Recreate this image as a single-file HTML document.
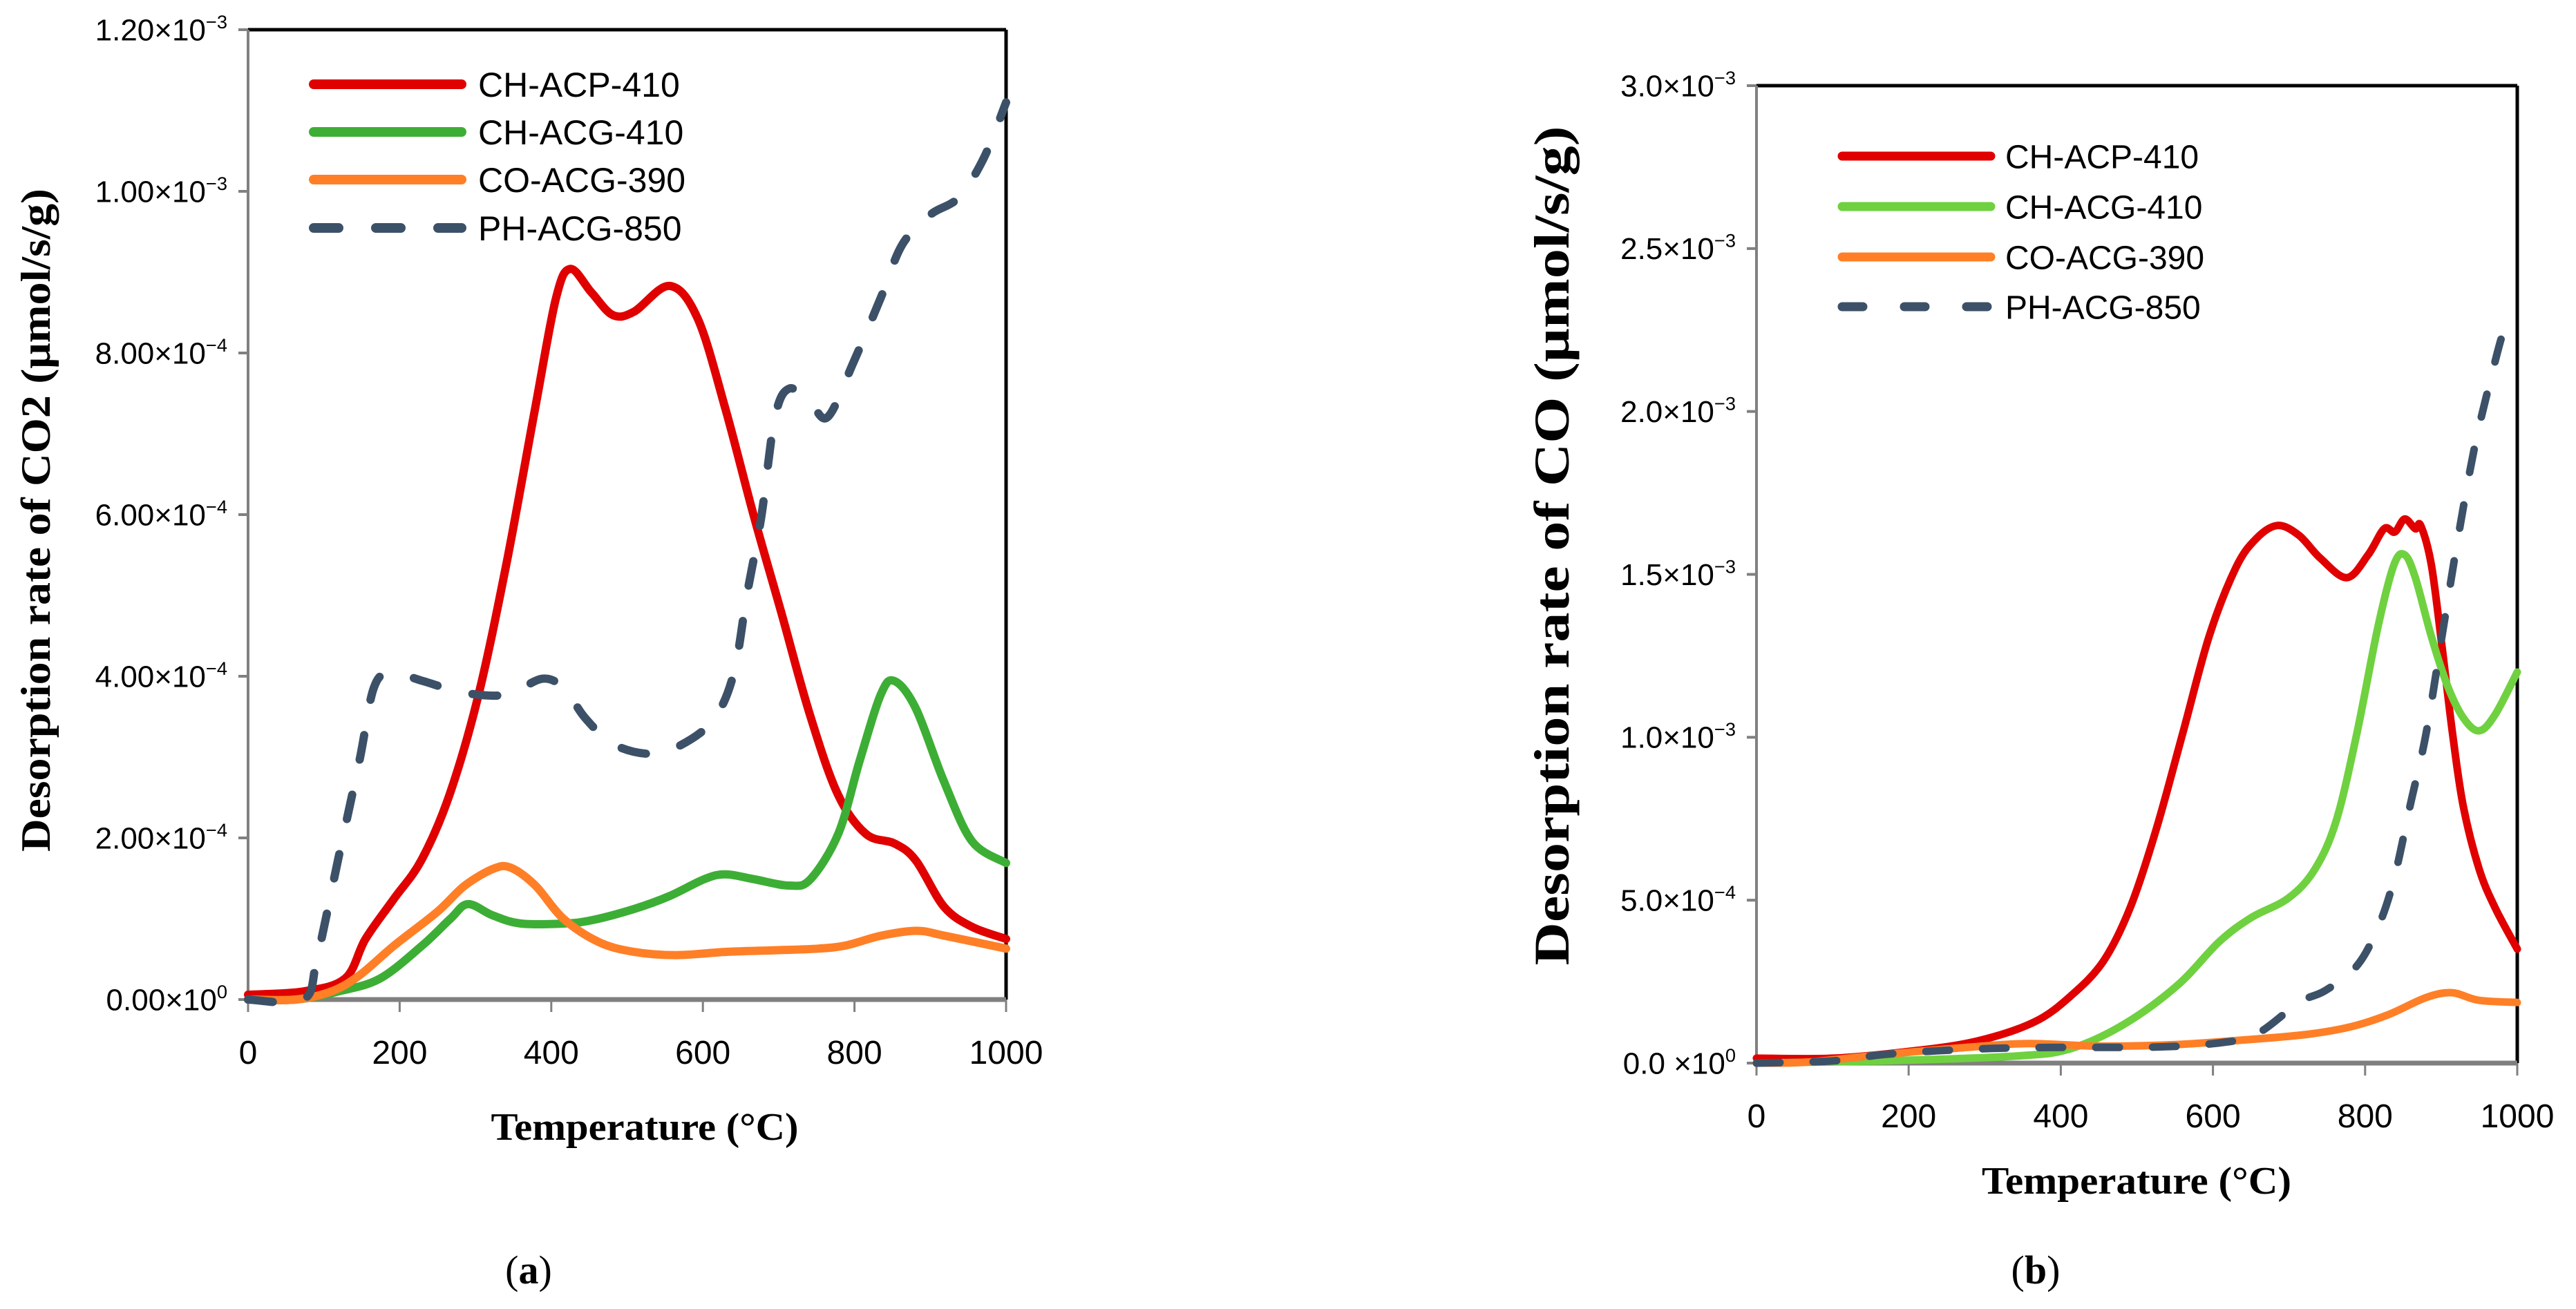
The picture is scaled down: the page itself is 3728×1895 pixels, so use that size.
<!DOCTYPE html>
<html><head><meta charset="utf-8"><style>
html,body{margin:0;padding:0;background:#fff;}
svg{display:block;}
.tick{font-family:"Liberation Sans",sans-serif;fill:#000;}
.title{font-family:"Liberation Serif",serif;font-weight:bold;fill:#000;}
</style></head><body>
<svg id="fig" width="3728" height="1895" viewBox="0 0 3728 1895" xmlns="http://www.w3.org/2000/svg">
<rect width="3728" height="1895" fill="#fff"/>
<g id="chartA"></g>
<g id="chartB"></g>
</svg>
<script>
// ---- Chart (a) data: temperature (°C) and rate in units of 1e-4 ----
const a_red_x = [0,73,128,155,192,229,266,304,341,378,406,425,453,481,509,556,593,630,667,704,741,778,815,853,881,918,955,1000];
const a_red_y = [0.06,0.1,0.26,0.75,1.24,1.73,2.54,3.77,5.4,7.28,8.67,9.04,8.75,8.47,8.51,8.83,8.43,7.3,5.99,4.77,3.53,2.54,2.05,1.93,1.72,1.15,0.9,0.75];
const a_green_x = [0,63,119,174,230,267,290,323,360,416,453,509,556,602,630,667,714,742,779,807,835,853,881,918,955,1000];
const a_green_y = [0,0,0.1,0.26,0.67,1.0,1.18,1.04,0.94,0.94,0.98,1.12,1.28,1.49,1.55,1.49,1.41,1.49,2.06,2.96,3.78,3.94,3.6,2.7,1.96,1.69];
const a_orange_x = [0,63,110,147,193,249,286,324,347,379,416,463,509,565,631,696,752,789,835,882,919,1000];
const a_orange_y = [0,0,0.1,0.3,0.67,1.08,1.41,1.62,1.63,1.41,1.0,0.71,0.59,0.55,0.59,0.61,0.63,0.67,0.79,0.85,0.79,0.63];
const a_dash_x = [0,73,91,119,147,166,189,231,277,324,352,389,417,445,482,528,565,612,640,658,677,695,714,742,765,798,835,863,900,937,970,1000];
const a_dash_y = [0,0,0.51,1.74,2.96,3.86,4.04,3.94,3.81,3.76,3.81,3.97,3.85,3.48,3.16,3.04,3.12,3.44,4.01,5.0,5.97,7.2,7.56,7.38,7.21,7.87,8.69,9.34,9.71,9.92,10.4,11.1];
const a_yticks = [0,2,4,6,8,10,12];
const a_ytick_mant = ["0.00","2.00","4.00","6.00","8.00","1.00","1.20"];
const a_ytick_exp = ["0","−4","−4","−4","−4","−3","−3"];
const xticks = [0,200,400,600,800,1000];

// ---- Chart (b) data: rate in units of 1e-4 ----
const b_red_x = [0,101,205,289,365,414,456,491,525,560,595,630,657,685,713,741,776,804,825,839,852,866,873,887,901,915,929,950,971,1000];
const b_red_y = [0.15,0.15,0.37,0.67,1.26,2.08,3.13,4.76,7.14,10.1,13.1,15.2,16.1,16.5,16.2,15.5,14.9,15.6,16.4,16.3,16.7,16.4,16.5,15.3,12.8,10.1,7.89,5.95,4.76,3.5];
const b_green_x = [0,170,344,414,483,553,608,650,699,734,762,789,817,838,852,866,887,908,929,950,971,1000];
const b_green_y = [0,0.07,0.22,0.45,1.19,2.38,3.72,4.46,5.06,5.95,7.44,10.1,13.4,15.3,15.6,14.9,13.1,11.6,10.6,10.2,10.7,12.0];
const b_orange_x = [0,66,170,275,358,449,553,657,727,782,831,880,914,949,1000];
const b_orange_y = [0,0.03,0.27,0.48,0.6,0.52,0.57,0.74,0.89,1.12,1.49,2.01,2.16,1.93,1.86];
const b_dash_x = [0,101,170,275,379,518,601,657,713,748,789,817,838,859,880,901,922,943,963,984,1000];
const b_dash_y = [0,0.07,0.27,0.42,0.48,0.49,0.6,0.89,1.86,2.23,2.98,4.17,5.65,7.89,10.1,13.1,16.1,18.8,20.8,22.6,23.0];
const b_yticks = [0,5,10,15,20,25,30];
const b_ytick_mant = ["0.0 ","5.0","1.0","1.5","2.0","2.5","3.0"];
const b_ytick_exp = ["0","−4","−3","−3","−3","−3","−3"];

const legendNames = ["CH-ACP-410","CH-ACG-410","CO-ACG-390","PH-ACG-850"];
const NS = "http://www.w3.org/2000/svg";

function mk(tag, attrs, parent){
  const e = document.createElementNS(NS, tag);
  for (const k in attrs) e.setAttribute(k, attrs[k]);
  parent.appendChild(e);
  return e;
}
function smoothPath(pts){
  let d = "M"+pts[0][0].toFixed(1)+","+pts[0][1].toFixed(1);
  for (let i=0;i<pts.length-1;i++){
    const p0=pts[Math.max(0,i-1)], p1=pts[i], p2=pts[i+1], p3=pts[Math.min(pts.length-1,i+2)];
    const c1x=p1[0]+(p2[0]-p0[0])/6, c1y=p1[1]+(p2[1]-p0[1])/6;
    const c2x=p2[0]-(p3[0]-p1[0])/6, c2y=p2[1]-(p3[1]-p1[1])/6;
    d+=" C"+c1x.toFixed(1)+","+c1y.toFixed(1)+" "+c2x.toFixed(1)+","+c2y.toFixed(1)+" "+p2[0].toFixed(1)+","+p2[1].toFixed(1);
  }
  return d;
}

function drawChart(g, cfg){
  const sx = v => cfg.x0 + (v/1000)*(cfg.x1-cfg.x0);
  const sy = v => cfg.yb - (v/cfg.ymax)*(cfg.yb-cfg.yt);
  // frame
  const top = mk("line",{x1:cfg.x0,y1:cfg.yt,x2:cfg.x1,y2:cfg.yt,stroke:"#000","stroke-width":5},g);
  
  
  const right = mk("line",{x1:cfg.x1,y1:cfg.yt,x2:cfg.x1,y2:cfg.yb,stroke:"#000","stroke-width":5},g);
  
  
  const yax = mk("line",{x1:cfg.x0,y1:cfg.yt,x2:cfg.x0,y2:cfg.yb,stroke:"#808080","stroke-width":4},g);
  
  
  // y ticks
  cfg.yticks.forEach((v,i)=>{
    const y = sy(v);
    const t = mk("line",{x1:cfg.x0-14,y1:y,x2:cfg.x0,y2:y,stroke:"#808080","stroke-width":4},g);
    
    
    const tx = mk("text",{x:cfg.x0-30,y:y+cfg.yfs*0.35,"text-anchor":"end","font-size":cfg.yfs,class:"tick"},g);
    
    
    const m = document.createElementNS(NS,"tspan"); m.textContent = cfg.mant[i]+"×10"; tx.appendChild(m);
    const s = document.createElementNS(NS,"tspan"); s.setAttribute("dy",-cfg.yfs*0.4); s.setAttribute("font-size",cfg.yfs*0.62); s.textContent = cfg.exp[i]; tx.appendChild(s);
  });
  // x axis
  const xax = mk("line",{x1:cfg.x0,y1:cfg.yb,x2:cfg.x1,y2:cfg.yb,stroke:"#7f7f7f","stroke-width":7},g);
  
  
  xticks.forEach(v=>{
    const x = sx(v);
    const t = mk("line",{x1:x,y1:cfg.yb,x2:x,y2:cfg.yb+18,stroke:"#808080","stroke-width":3},g);
    
    
    const tx = mk("text",{x:x,y:cfg.xly,"text-anchor":"middle","font-size":cfg.xfs,class:"tick"},g);
    
    
    tx.textContent = v;
  });
  // series
  cfg.series.forEach(s=>{
    const pts = s.x.map((xv,i)=>[sx(xv), sy(s.y[i])]);
    const p = mk("path",{d:smoothPath(pts),fill:"none",stroke:s.color,"stroke-width":cfg.lw,"stroke-linecap":"round","stroke-linejoin":"round"},g);
    if (s.dash) p.setAttribute("stroke-dasharray",s.dash);
    
    
  });
  // legend
  cfg.series.forEach((s,i)=>{
    const y = cfg.legY[i];
    const l = mk("line",{x1:cfg.legX0,y1:y,x2:cfg.legX1,y2:y,stroke:s.color,"stroke-width":cfg.lw+2,"stroke-linecap":"round"},g);
    if (s.dash) l.setAttribute("stroke-dasharray",s.legDash);
    
    
    const t = mk("text",{x:cfg.legTx,y:y+cfg.legfs*0.36,"font-size":cfg.legfs,class:"tick"},g);
    
    
    t.textContent = legendNames[i];
  });
  // titles
  const yt = mk("text",{x:0,y:0,"text-anchor":"middle","font-size":cfg.ytfs,class:"title",textLength:cfg.ytLen,lengthAdjust:"spacingAndGlyphs",transform:"translate("+cfg.ytX+","+cfg.ytY+") rotate(-90)"},g);
  
  
  yt.textContent = cfg.ytitle;
  const xt = mk("text",{x:cfg.xtX,y:cfg.xtY,"text-anchor":"middle","font-size":cfg.xtfs,class:"title",textLength:cfg.xtLen,lengthAdjust:"spacingAndGlyphs"},g);
  
  
  xt.textContent = "Temperature (°C)";
  const cap = mk("text",{x:cfg.capX,y:1858,"text-anchor":"middle","font-size":58,class:"title","font-weight":"normal"},g);
  
  
  const c1=document.createElementNS(NS,"tspan"); c1.setAttribute("font-weight","normal"); c1.textContent="("; cap.appendChild(c1);
  const c2=document.createElementNS(NS,"tspan"); c2.setAttribute("font-weight","bold"); c2.textContent=cfg.cap; cap.appendChild(c2);
  const c3=document.createElementNS(NS,"tspan"); c3.setAttribute("font-weight","normal"); c3.textContent=")"; cap.appendChild(c3);
}

drawChart(document.getElementById("chartA"),{
  x0:359,x1:1456,yt:43,yb:1447,ymax:12,yticks:a_yticks,mant:a_ytick_mant,exp:a_ytick_exp,yfs:44,xfs:48,xly:1540,lw:12,
  series:[
    {name:"ch-acp-410-line",x:a_red_x,y:a_red_y,color:"#e00000"},
    {name:"ch-acg-410-line",x:a_green_x,y:a_green_y,color:"#3dae35"},
    {name:"co-acg-390-line",x:a_orange_x,y:a_orange_y,color:"#ff7f27"},
    {name:"ph-acg-850-line",x:a_dash_x,y:a_dash_y,color:"#3c5168",dash:"36 52",legDash:"36 54"}
  ],
  legX0:454,legX1:668,legTx:692,legY:[122,191,260,330],legfs:50,
  ytitle:"Desorption rate of CO2 (μmol/s/g)",ytfs:60,ytLen:960,ytX:72,ytY:753,
  xtX:933,xtY:1650,xtfs:56,xtLen:445,capX:765,cap:"a"
});
drawChart(document.getElementById("chartB"),{
  x0:2542,x1:3643,yt:124,yb:1539,ymax:30,yticks:b_yticks,mant:b_ytick_mant,exp:b_ytick_exp,yfs:44,xfs:48,xly:1632,lw:11,
  series:[
    {name:"ch-acp-410-line",x:b_red_x,y:b_red_y,color:"#e00000"},
    {name:"ch-acg-410-line",x:b_green_x,y:b_green_y,color:"#6fd13f"},
    {name:"co-acg-390-line",x:b_orange_x,y:b_orange_y,color:"#ff7f27"},
    {name:"ph-acg-850-line",x:b_dash_x,y:b_dash_y,color:"#3c5168",dash:"34 48",legDash:"30 60"}
  ],
  legX0:2666,legX1:2881,legTx:2902,legY:[226,299,372,444],legfs:48,
  ytitle:"Desorption rate of CO (μmol/s/g)",ytfs:72,ytLen:1215,ytX:2270,ytY:790,
  xtX:3092,xtY:1728,xtfs:56,xtLen:448,capX:2946,cap:"b"
});
</script>
</body></html>
